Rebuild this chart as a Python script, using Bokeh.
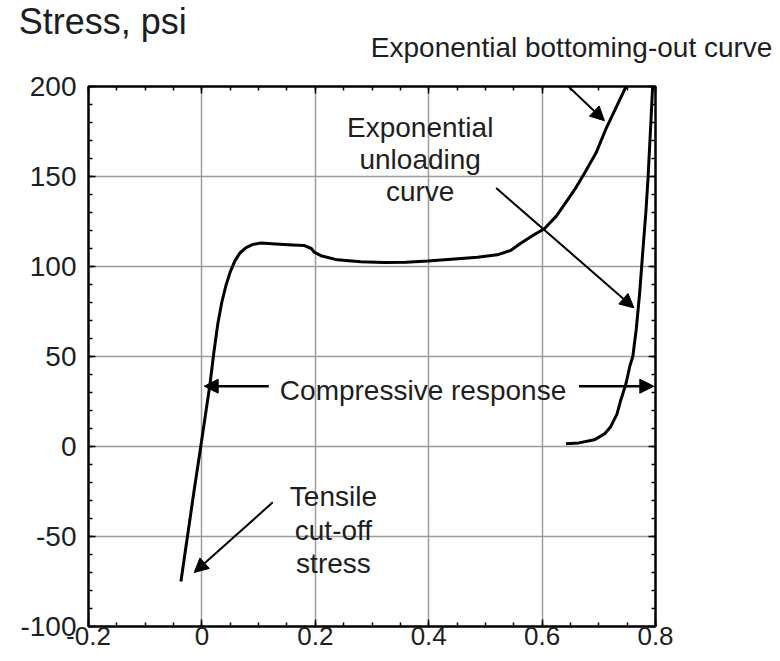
import numpy as np
from bokeh.plotting import figure
from bokeh.models import (Range1d, LinearAxis, FixedTicker, Label, Arrow,
                          NormalHead)
from bokeh.embed import file_html
from bokeh.resources import INLINE

# ---------------- data ----------------
load_x = [-0.037, -0.0255, -0.014, -0.002, 0.006, 0.014, 0.021, 0.028, 0.035,
          0.042, 0.050, 0.058, 0.067, 0.078, 0.090, 0.104, 0.130, 0.160,
          0.180, 0.193, 0.198, 0.210, 0.239, 0.280, 0.321, 0.360, 0.398,
          0.440, 0.486, 0.521, 0.545, 0.563, 0.585, 0.604, 0.625, 0.645,
          0.660, 0.675, 0.695, 0.712, 0.730, 0.748]
load_y = [-75, -50, -25, 0, 17, 34, 52, 68, 80,
          89, 97, 103, 107.5, 110.5, 112.3, 113, 112.5, 112,
          111.7, 110, 108, 106, 103.7, 102.6, 102.2, 102.4, 103,
          104, 105.2, 106.5, 109, 113, 117.5, 121, 128, 137,
          144, 152, 163, 176, 188, 200]

unload_x = [0.642, 0.665, 0.692, 0.710, 0.721, 0.732, 0.739, 0.748, 0.755,
            0.760, 0.766, 0.772, 0.778, 0.783, 0.787, 0.791, 0.795]
unload_y = [1.5, 2, 3.7, 7, 11, 18, 26, 35, 45,
            50, 65, 85, 110, 130, 150, 175, 200]

x_ticks = [-0.2, 0, 0.2, 0.4, 0.6, 0.8]
x_tick_labels = ["-0.2", "0", "0.2", "0.4", "0.6", "0.8"]
y_ticks = [-100, -50, 0, 50, 100, 150, 200]
y_tick_labels = ["-100", "-50", "0", "50", "100", "150", "200"]

y_title = "Stress, psi"
note_bottoming = "Exponential bottoming-out curve"
note_unloading = ["Exponential", "unloading", "curve"]
note_compressive = "Compressive response"
note_tensile = ["Tensile", "cut-off", "stress"]

FONT = "Liberation Sans"
TXT = "#1e1e1e"

# layout (pixels)
W = 780
FRAME_L, FRAME_W, FRAME_H = 88, 567, 540
HEAD_H, TOP_GAP, BOTTOM = 70, 16, 34
PX_PER_X = FRAME_W / 1.0
PX_PER_Y = FRAME_H / 300.0

# ---------------- header strip (texts above the plot box) ----------------
hx0 = -0.2 - FRAME_L / PX_PER_X
hx1 = -0.2 + (W - FRAME_L) / PX_PER_X
hy0 = 200 + TOP_GAP / PX_PER_Y
hy1 = hy0 + HEAD_H / PX_PER_Y
head = figure(x_range=Range1d(hx0, hx1), y_range=Range1d(hy0, hy1),
              frame_width=W, frame_height=HEAD_H,
              min_border=0, min_border_left=0, min_border_right=0,
              min_border_top=0, min_border_bottom=0,
              x_axis_location=None, y_axis_location=None,
              output_backend="svg", toolbar_location=None)
head.grid.visible = False
head.outline_line_color = None
head.background_fill_color = "white"
head.border_fill_color = "white"

# ---------------- main plot ----------------
p = figure(x_range=Range1d(-0.2, 0.8), y_range=Range1d(-100, 200),
           frame_width=FRAME_W, frame_height=FRAME_H,
           min_border_left=FRAME_L, min_border_top=TOP_GAP,
           min_border_right=W - FRAME_L - FRAME_W, min_border_bottom=BOTTOM,
           output_backend="svg", toolbar_location=None)
p.background_fill_color = "white"
p.border_fill_color = "white"
p.outline_line_color = "black"
p.outline_line_width = 2

p.add_layout(LinearAxis(), "above")
p.add_layout(LinearAxis(), "right")

xt = FixedTicker(ticks=x_ticks, minor_ticks=list(np.round(np.arange(-0.2, 0.8001, 0.05), 3)))
yt = FixedTicker(ticks=y_ticks, minor_ticks=list(range(-100, 201, 10)))
for ax in p.xaxis:
    ax.ticker = xt
for ax in p.yaxis:
    ax.ticker = yt
p.xgrid.ticker = xt
p.ygrid.ticker = yt

for ax in p.axis:
    ax.axis_line_color = "black"
    ax.axis_line_width = 2
    ax.major_tick_in = 7
    ax.major_tick_out = 0
    ax.minor_tick_in = 4
    ax.minor_tick_out = 0
    ax.major_tick_line_color = "black"
    ax.major_tick_line_width = 1.5
    ax.minor_tick_line_color = "black"
    ax.minor_tick_line_width = 1.5
    ax.major_label_text_font = FONT
    ax.major_label_text_color = TXT

p.below[0].major_label_overrides = dict(zip(x_ticks, x_tick_labels))
p.below[0].major_label_text_font_size = "26px"
p.below[0].major_label_standoff = 0
p.left[0].major_label_overrides = dict(zip(y_ticks, y_tick_labels))
p.left[0].major_label_text_font_size = "28px"
p.left[0].major_label_standoff = 12
for ax, ticks in ((p.above[0], x_ticks), (p.right[0], y_ticks)):
    ax.major_label_overrides = {t: "" for t in ticks}
    ax.major_label_text_font_size = "1px"
    ax.major_label_standoff = 0

p.xgrid.grid_line_color = "#9c9c9c"
p.ygrid.grid_line_color = "#9c9c9c"
p.xgrid.grid_line_width = 1.5
p.ygrid.grid_line_width = 1.5

# ---------------- curves ----------------
p.line(x=load_x, y=load_y, line_color="black", line_width=3, line_join="round")
p.line(x=unload_x, y=unload_y, line_color="black", line_width=3, line_join="round")

# ---------------- annotations ----------------
def add_label(fig, x, y, text, size="28px", align="left"):
    fig.add_layout(Label(x=x, y=y, text=text, text_font=FONT, text_font_size=size,
                         text_color=TXT, text_align=align, text_baseline="middle"))

add_label(head, -0.323, 236, y_title, size="36px")
add_label(head, 0.298, 221.5, note_bottoming)
for txt, yy in zip(note_unloading, [177, 159.5, 141.5]):
    add_label(p, 0.385, yy, txt, align="center")
add_label(p, 0.390, 31, note_compressive, align="center")
for txt, yy in zip(note_tensile, [-28, -46.5, -65]):
    add_label(p, 0.232, yy, txt, align="center")

def add_arrow(fig, x0, y0, x1, y1, lw=2, size=14, head_on=True):
    end = NormalHead(size=size, fill_color="black", line_color="black",
                     line_width=1) if head_on else None
    fig.add_layout(Arrow(x_start=x0, y_start=y0, x_end=x1, y_end=y1,
                         line_color="black", line_width=lw, end=end))

add_arrow(p, 0.621, 207.6, 0.710, 181.0)
add_arrow(p, 0.519, 143.6, 0.762, 77.0)
add_arrow(p, 0.118, 33.5, 0.004, 33.5, lw=2.5)
add_arrow(p, 0.665, 33.5, 0.797, 33.5, lw=2.5)
add_arrow(p, 0.125, -31.0, -0.0136, -70.0)

open("out.html", "w").write(file_html([head, p], INLINE))
